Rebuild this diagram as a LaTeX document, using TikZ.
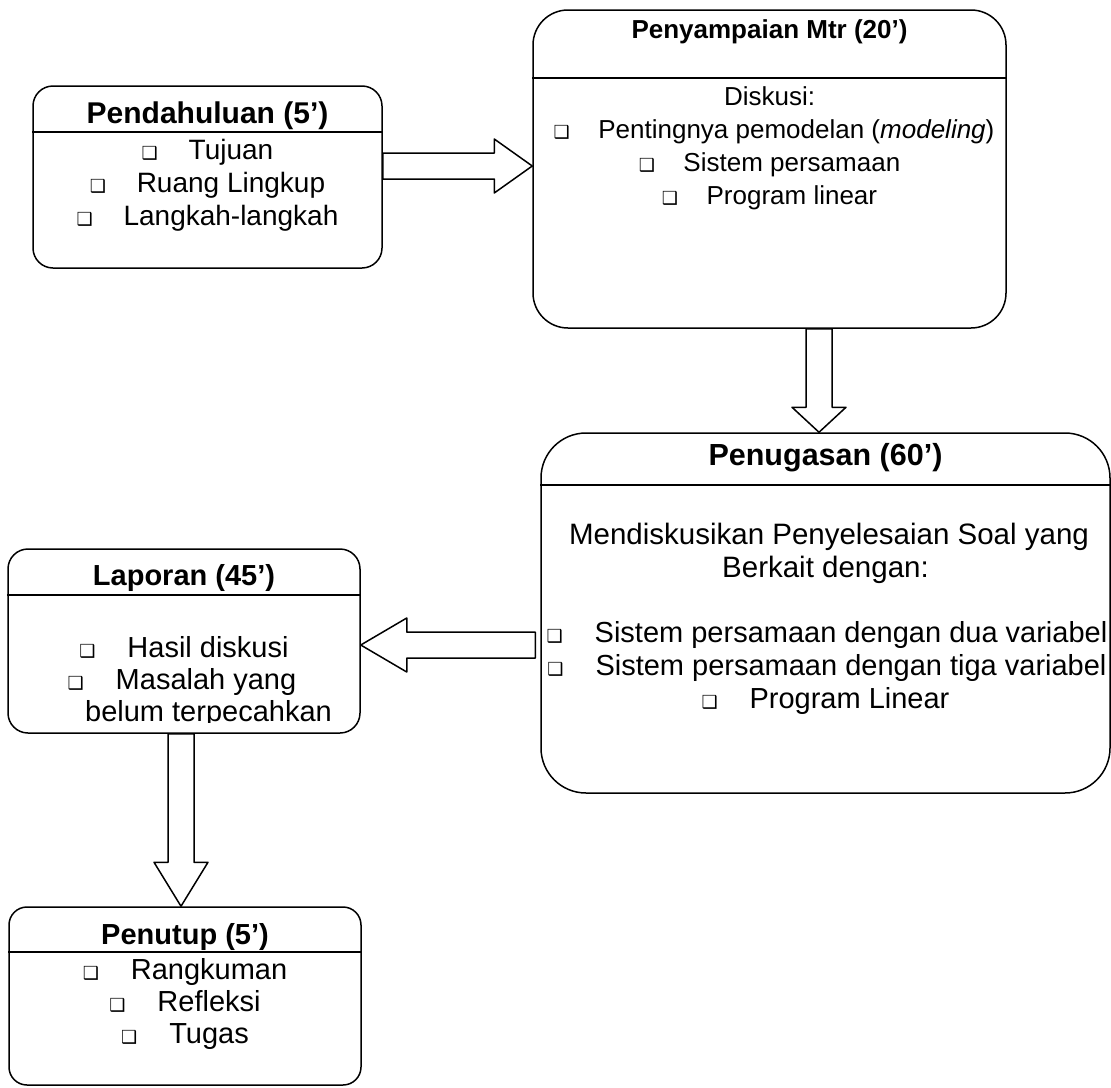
\documentclass[tikz,border=0pt]{standalone}
\usepackage{fontspec}
\setmainfont{Liberation Sans}
\newfontfamily\dingfont{DejaVu Sans}
\usetikzlibrary{calc}
\newcommand{\bul}{{\dingfont\fontsize{18}{18}\selectfont ❑}}
\newcommand{\bi}[1]{\bul\hspace{1.1em}#1}

\begin{document}
\begin{tikzpicture}[x=1pt, y=-1pt, line width=1.5pt, line join=round,
	kotak/.style={draw, rectangle, inner sep=0pt},
	judul/.style={font=\bfseries\fontsize{#1}{#1}\selectfont, anchor=base, inner sep=0pt},
	judul/.default=29,
	isi/.style={font=\fontsize{#1}{#1}\selectfont, anchor=base, inner sep=0pt},
	isi/.default=29,
	panah/.style={draw, fill=white, line join=miter, to path={
		($(\tikztostart)!13pt!90:(\tikztotarget)$)
		-- ($(\tikztotarget)!#1!(\tikztostart)!13pt!-90:(\tikztostart)$)
		-- ($(\tikztotarget)!#1!(\tikztostart)!27pt!-90:(\tikztostart)$)
		-- (\tikztotarget)
		-- ($(\tikztotarget)!#1!(\tikztostart)!27pt!90:(\tikztostart)$)
		-- ($(\tikztotarget)!#1!(\tikztostart)!13pt!90:(\tikztostart)$)
		-- ($(\tikztostart)!13pt!-90:(\tikztotarget)$)
		-- cycle}}]
	\useasboundingbox (0,0) rectangle (1111,1087);
	% kotak-kotak
	\node[kotak, minimum width=349pt, minimum height=182pt, rounded corners=20pt] (pend) at (207.5,177) {};
	\node[kotak, minimum width=473pt, minimum height=318pt, rounded corners=35pt] (peny) at (769.5,169) {};
	\node[kotak, minimum width=569pt, minimum height=360pt, rounded corners=45pt] (penu) at (825.5,613) {};
	\node[kotak, minimum width=352pt, minimum height=184pt, rounded corners=20pt] (lap) at (184,641) {};
	\node[kotak, minimum width=352pt, minimum height=178pt, rounded corners=18pt] (tutup) at (185,996) {};
	\draw (pend.west |- 0,132) -- (pend.east |- 0,132);
	\draw (peny.west |- 0,78) -- (peny.east |- 0,78);
	\draw (penu.west |- 0,485) -- (penu.east |- 0,485);
	\draw (lap.west |- 0,595) -- (lap.east |- 0,595);
	\draw (tutup.west |- 0,952) -- (tutup.east |- 0,952);
	% teks
	\path 
	(207.5,123) node[judul=30] (pend0) {Pendahuluan (5’)}
	(207.5,159) node[isi=28] (pend1) {\bi{Tujuan}}
	(207.5,192) node[isi=28] (pend2) {\bi{Ruang Lingkup}}
	(207.5,225) node[isi=28] (pend3) {\bi{Langkah-langkah}}
	(769.5,38) node[judul=26] (peny0) {Penyampaian Mtr (20’)}
	(769.5,105) node[isi=26] (peny1) {Diskusi:}
	(774,138) node[isi=26] (peny2) {\bi{Pentingnya pemodelan (\textit{modeling})}}
	(769.5,171) node[isi=26] (peny3) {\bi{Sistem persamaan}}
	(769.5,204) node[isi=26] (peny4) {\bi{Program linear}}
	(825.5,465) node[judul=30.5] (penu0) {Penugasan (60’)}
	(829,544) node[isi=29.5] (penu1) {Mendiskusikan Penyelesaian Soal yang}
	(825.5,577) node[isi=29.5] (penu2) {Berkait dengan:}
	(827,642) node[isi] (penu3) {\bi{Sistem persamaan dengan dua variabel}}
	(827,675) node[isi] (penu4) {\bi{Sistem persamaan dengan tiga variabel}}
	(825.5,708) node[isi] (penu5) {\bi{Program Linear}}
	(184,585) node[judul] (lap0) {Laporan (45’)}
	(184,657) node[isi] (lap1) {\bi{Hasil diskusi}}
	(182,689) node[isi] (lap2) {\bi{Masalah yang}}
	(185,944) node[judul] (tutup0) {Penutup (5’)}
	(185,979) node[isi] (tutup1) {\bi{Rangkuman}}
	(185,1011) node[isi] (tutup2) {\bi{Refleksi}}
	(185,1043) node[isi] (tutup3) {\bi{Tugas}};
	\begin{scope}
	\clip (0,0) rectangle (1111,722.5);
	\node[isi] (lap3) at (208.5,721) {belum terpecahkan};
	\end{scope}
	% panah blok
	\coordinate (a1) at ([yshift=11pt]pend.east);
	\coordinate (b1) at ([yshift=3pt]peny.west);
	\coordinate (a2) at ([xshift=49.5pt]peny.south);
	\coordinate (b2) at ([xshift=-6.5pt]penu.north);
	\coordinate (a3) at ([xshift=-5pt,yshift=-32pt]penu.west);
	\coordinate (b3) at ([yshift=-4pt]lap.east);
	\coordinate (a4) at ([xshift=-3pt]lap.south);
	\coordinate (b4) at ([xshift=-4pt]tutup.north);
	\draw (a1) to[panah=38pt] (b1);
	\draw (a2) to[panah=25pt] (b2);
	\draw (a3) to[panah=46pt] (b3);
	\draw (a4) to[panah=44pt] (b4);
\end{tikzpicture}
\end{document}
